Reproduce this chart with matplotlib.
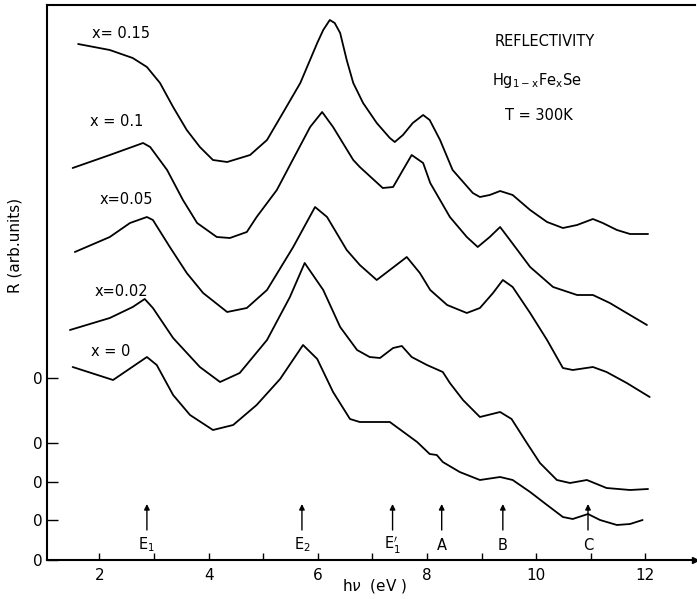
import numpy as np
import matplotlib
matplotlib.use("Agg")
import matplotlib.pyplot as plt

plt.rcParams['font.family'] = ['DejaVu Sans']
plt.rcParams['mathtext.fontset'] = 'dejavusans'

# Photon energy (eV) and reflectivity (arb. units, relative to each curve's zero)
E_015 = [1.61, 2.19, 2.61, 2.87, 3.11, 3.35, 3.60, 3.84, 4.08, 4.34, 4.76, 5.07, 5.36, 5.68,
         5.99, 6.10, 6.22, 6.31, 6.41, 6.53, 6.65, 6.83, 7.08, 7.32, 7.41, 7.56, 7.74,
         7.93, 8.05, 8.24, 8.47, 8.84, 8.97, 9.15, 9.34, 9.57, 9.89, 10.20, 10.49, 10.75,
         11.04, 11.22, 11.48, 11.72, 12.05]
R_015 = [33.4, 32.8, 32.0, 31.1, 29.5, 27.1, 24.8, 23.1, 21.8, 21.6, 22.3, 23.8, 26.5, 29.5,
         33.5, 34.8, 35.8, 35.5, 34.5, 31.8, 29.5, 27.5, 25.5, 24.0, 23.6, 24.3, 25.5,
         26.3, 25.8, 23.8, 20.8, 18.5, 18.1, 18.3, 18.7, 18.3, 16.8, 15.6, 15.0, 15.3,
         15.9, 15.5, 14.8, 14.4, 14.4]

E_010 = [1.51, 2.19, 2.80, 2.93, 3.24, 3.53, 3.79, 4.15, 4.39, 4.70, 4.88, 5.25, 5.54, 5.86,
         6.08, 6.28, 6.65, 6.77, 7.19, 7.38, 7.56, 7.72, 7.93, 8.06, 8.24, 8.42, 8.73, 8.93,
         9.15, 9.34, 9.52, 9.89, 10.31, 10.75, 11.04, 11.35, 11.72, 12.03]
R_010 = [27.5, 28.8, 30.0, 29.6, 27.3, 24.3, 22.0, 20.6, 20.5, 21.1, 22.6, 25.3, 28.3, 31.6,
         33.1, 31.6, 28.3, 27.6, 25.5, 25.6, 27.3, 28.8, 28.0, 26.0, 24.3, 22.6, 20.6, 19.6,
         20.6, 21.6, 20.3, 17.6, 15.6, 14.8, 14.8, 14.0, 12.8, 11.8]

E_005 = [1.55, 2.19, 2.56, 2.87, 2.98, 3.29, 3.60, 3.90, 4.34, 4.70, 5.07, 5.55, 5.95, 6.17,
         6.53, 6.77, 7.08, 7.63, 7.87, 8.06, 8.37, 8.73, 8.97, 9.21, 9.39, 9.57, 9.89, 10.20,
         10.49, 10.67, 11.04, 11.29, 11.66, 12.08]
R_005 = [23.0, 24.5, 25.9, 26.5, 26.2, 23.5, 20.9, 18.9, 17.0, 17.4, 19.2, 23.5, 27.5, 26.5,
         23.2, 21.7, 20.2, 22.5, 20.9, 19.2, 17.7, 16.9, 17.4, 18.9, 20.2, 19.5, 16.9, 14.2,
         11.4, 11.2, 11.5, 11.0, 9.9, 8.5]

E_002 = [1.46, 2.19, 2.61, 2.83, 2.98, 3.35, 3.84, 4.21, 4.57, 5.07, 5.49, 5.76, 6.10, 6.41,
         6.72, 6.95, 7.14, 7.38, 7.54, 7.72, 8.00, 8.29, 8.42, 8.66, 8.97, 9.34, 9.55, 9.83,
         10.07, 10.38, 10.62, 10.93, 11.29, 11.72, 12.05]
R_002 = [19.0, 20.2, 21.3, 22.1, 21.2, 18.2, 15.3, 13.8, 14.7, 18.0, 22.3, 25.7, 23.0, 19.3,
         17.0, 16.3, 16.2, 17.2, 17.4, 16.3, 15.5, 14.8, 13.7, 12.0, 10.3, 10.8, 10.1, 7.7,
         5.7, 4.0, 3.7, 4.0, 3.2, 3.0, 3.1]

E_000 = [1.51, 2.25, 2.87, 3.05, 3.35, 3.66, 4.08, 4.45, 4.88, 5.31, 5.73, 5.99, 6.28, 6.59,
         6.77, 6.95, 7.32, 7.82, 8.05, 8.18, 8.29, 8.60, 8.97, 9.34, 9.57, 9.89, 10.20, 10.49,
         10.67, 10.95, 11.17, 11.48, 11.72, 11.95]
R_000 = [19.3, 18.0, 20.3, 19.5, 16.5, 14.5, 13.0, 13.5, 15.5, 18.1, 21.5, 20.1, 16.8, 14.1,
         13.8, 13.8, 13.8, 11.8, 10.6, 10.5, 9.8, 8.8, 8.0, 8.3, 8.0, 6.8, 5.5, 4.3,
         4.1, 4.6, 4.0, 3.5, 3.6, 4.0]

# Zero level of each curve on the common vertical scale
zero_levels = [18.2, 11.7, 7.8, 4.0, 0.0]
labels = ["x= 0.15", "x = 0.1", "x=0.05", "x=0.02", "x = 0"]
label_pos = [(2.40, 52.7), (2.32, 43.9), (2.50, 36.1), (2.40, 26.9), (2.21, 20.9)]

# Transition markers
mark_E = [2.87, 5.71, 7.37, 8.27, 9.39, 10.95]
mark_txt = [r"E$_1$", r"E$_2$", r"E$_1^{\prime}$", "A", "B", "C"]

x_ticks = [2, 4, 6, 8, 10, 12]

curves = [(E_015, R_015), (E_010, R_010), (E_005, R_005), (E_002, R_002), (E_000, R_000)]

fig = plt.figure(figsize=(6.97, 5.99), dpi=100)
ax = fig.add_axes([47 / 697, 39 / 599, 648 / 697, 555 / 599])

for (E, R), z in zip(curves, zero_levels):
    ax.plot(E, np.asarray(R) + z, color='black', lw=1.3,
            solid_joinstyle='round', solid_capstyle='round')

for t, (px, py) in zip(labels, label_pos):
    ax.text(px, py, t, ha='center', va='center', fontsize=10.5)

for e, t in zip(mark_E, mark_txt):
    ax.annotate("", xy=(e, 5.6), xytext=(e, 3.0),
                arrowprops=dict(arrowstyle='-|>', color='black', lw=1.0,
                                mutation_scale=8, shrinkA=0, shrinkB=0))
    ax.text(e, 1.5, t, ha='center', va='center', fontsize=10.5)

ax.text(10.16, 51.8, "REFLECTIVITY", ha='center', va='center', fontsize=10.5)
ax.text(10.01, 48.0, r"Hg$_{1-\mathrm{x}}$Fe$_\mathrm{x}$Se", ha='center', va='center', fontsize=10.5)
ax.text(10.05, 44.5, "T = 300K", ha='center', va='center', fontsize=10.5)

ax.set_xlim(1.04, 12.91)
ax.set_ylim(0, 55.5)
ax.set_xticks(x_ticks)
ax.set_xticks(np.arange(2, 13, 1), minor=True)
ax.set_xticklabels([str(v) for v in x_ticks], fontsize=11)
ax.set_yticks(zero_levels)
ax.set_yticklabels(["0"] * len(zero_levels), fontsize=11)
ax.tick_params(axis='x', which='both', direction='in', length=5, width=1.0, pad=6)
ax.tick_params(axis='y', direction='in', length=8, width=1.0, pad=3)

for s in ['left', 'bottom', 'top']:
    ax.spines[s].set_linewidth(1.5)
ax.spines['right'].set_visible(False)
ax.plot([1], [0], marker='>', color='black', markersize=4, transform=ax.transAxes, clip_on=False)

fig.text(15 / 697, 1 - 245 / 599, "R (arb.units)", rotation=90, ha='center', va='center', fontsize=11)
fig.text(375 / 697, 1 - 586 / 599, r"h$\nu$  (eV )", ha='center', va='center', fontsize=11)

fig.savefig("out.png", dpi=100)
